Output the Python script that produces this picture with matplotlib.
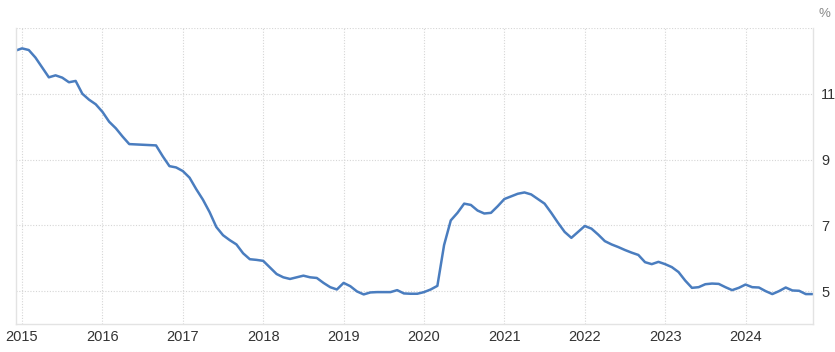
"""Monthly rate chart, Dec 2014 - Nov 2024."""

import matplotlib
matplotlib.use("Agg")
import matplotlib.pyplot as plt
import pandas as pd

plt.rcParams["font.family"] = ["Liberation Sans", "DejaVu Sans"]

# Monthly values (%), Dec 2014 .. Nov 2024
VALUES_2014 = [12.31]
VALUES_2015 = [12.38, 12.33, 12.10, 11.80, 11.50, 11.56, 11.49, 11.35, 11.39, 11.00, 10.82, 10.68]
VALUES_2016 = [10.45, 10.15, 9.95, 9.70, 9.47, 9.46, 9.45, 9.44, 9.43, 9.10, 8.80, 8.76]
VALUES_2017 = [8.65, 8.45, 8.10, 7.78, 7.40, 6.95, 6.70, 6.55, 6.42, 6.15, 5.97, 5.95]
VALUES_2018 = [5.92, 5.72, 5.52, 5.42, 5.37, 5.42, 5.47, 5.42, 5.40, 5.25, 5.12, 5.05]
VALUES_2019 = [5.25, 5.15, 4.99, 4.90, 4.96, 4.97, 4.97, 4.97, 5.03, 4.93, 4.92, 4.92]
VALUES_2020 = [4.97, 5.05, 5.16, 6.40, 7.15, 7.38, 7.66, 7.62, 7.45, 7.36, 7.38, 7.58]
VALUES_2021 = [7.80, 7.88, 7.96, 8.00, 7.94, 7.80, 7.66, 7.38, 7.08, 6.80, 6.62, 6.80]
VALUES_2022 = [6.98, 6.90, 6.72, 6.52, 6.42, 6.34, 6.25, 6.17, 6.10, 5.88, 5.82, 5.89]
VALUES_2023 = [5.82, 5.73, 5.58, 5.32, 5.10, 5.12, 5.21, 5.23, 5.22, 5.12, 5.03, 5.10]
VALUES_2024 = [5.20, 5.12, 5.11, 5.00, 4.91, 5.00, 5.11, 5.02, 5.01, 4.91, 4.91]

values = (VALUES_2014 + VALUES_2015 + VALUES_2016 + VALUES_2017 + VALUES_2018
          + VALUES_2019 + VALUES_2020 + VALUES_2021 + VALUES_2022 + VALUES_2023
          + VALUES_2024)
dates = pd.date_range("2014-12-01", periods=len(values), freq="MS")
x = dates.year + (dates.month - 1) / 12.0

YEARS = list(range(2015, 2025))
Y_TICKS = [5, 7, 9, 11]
Y_GRID = [5, 7, 9, 11, 13]

fig = plt.figure(figsize=(8.35, 3.52), dpi=100)
ax = fig.add_axes([0.0192, 0.0795, 0.9545, 0.841])

ax.plot(x, values, color="#4a7dbf", linewidth=1.8, solid_joinstyle="round",
        solid_capstyle="round")

ax.set_xlim(2014.925, 2024.84)
ax.set_ylim(4, 13)

# Grid:
for yg in Y_GRID:
    ax.axhline(yg, color="#d6d6d6", linewidth=0.8, linestyle=(0, (1, 1.5)), zorder=0)
for yr in YEARS:
    ax.axvline(yr, color="#d6d6d6", linewidth=0.8, linestyle=(0, (1, 1.5)), zorder=0)

# Ticks:
ax.set_xticks(YEARS)
ax.set_xticklabels([str(y) for y in YEARS])
ax.set_yticks(Y_TICKS)
ax.yaxis.tick_right()
ax.tick_params(axis="both", length=0, labelsize=10.5, colors="#333333")
ax.tick_params(axis="x", pad=4)
ax.tick_params(axis="y", pad=6)

# Spines:
ax.spines["top"].set_visible(False)
for side in ("left", "bottom", "right"):
    ax.spines[side].set_color("#e3e3e3")
    ax.spines[side].set_linewidth(1.0)

fig.text(0.987, 0.978, "%", ha="center", va="top", fontsize=9.5, color="#888888")

fig.savefig("out.png", dpi=100)
